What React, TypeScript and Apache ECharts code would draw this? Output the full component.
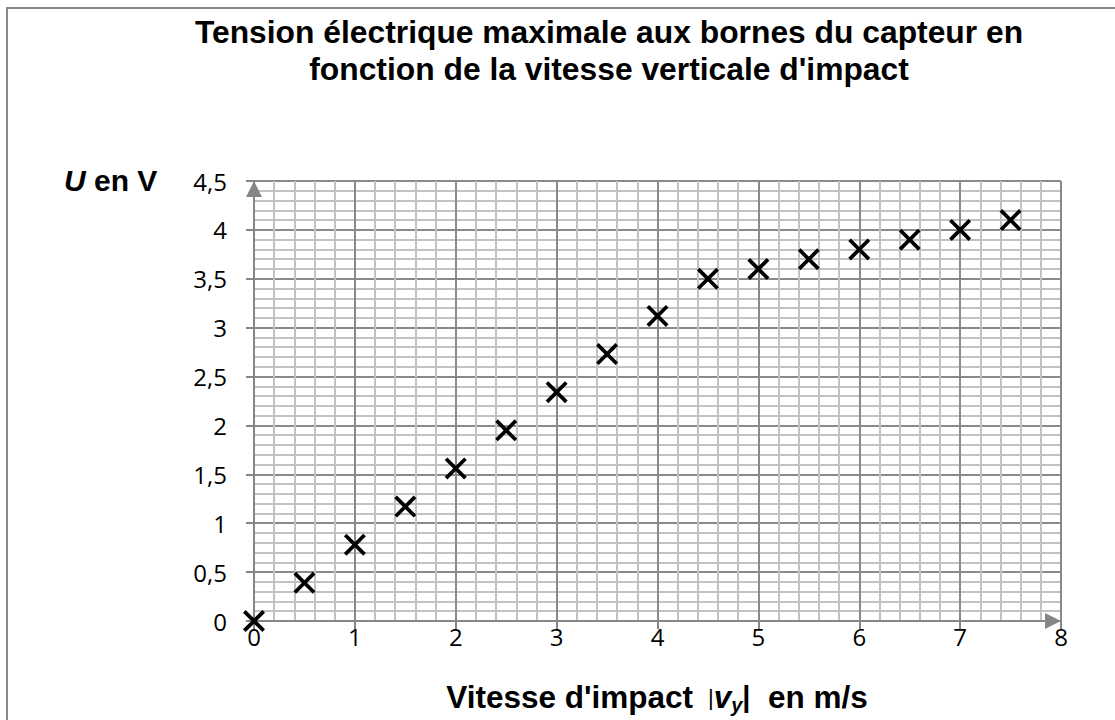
import { useEffect, useRef } from 'react';
import * as echarts from 'echarts';

// Data
const speeds = [0, 0.5, 1, 1.5, 2, 2.5, 3, 3.5, 4, 4.5, 5, 5.5, 6, 6.5, 7, 7.5];
const voltages = [0, 0.39, 0.78, 1.17, 1.56, 1.95, 2.34, 2.73, 3.12, 3.5, 3.6, 3.7, 3.8, 3.9, 4.0, 4.1];

const X_MIN = 0;
const X_MAX = 8;
const X_INTERVAL = 1;
const Y_MIN = 0;
const Y_MAX = 4.5;
const Y_INTERVAL = 0.5;

const TITLE_LINES = [
  'Tension électrique maximale aux bornes du capteur en',
  "fonction de la vitesse verticale d'impact",
];

const AXIS_GRAY = '#868686';
const MAJOR_GRID = '#8a8a8a';
const MINOR_GRID = '#c2c2c2';
const ARIAL = 'Liberation Sans';
const LABEL_FONT = 'Open Sans';
// filled "X" cross marker
const CROSS = 'path://M12,0L100,88L88,100L0,12ZM88,0L100,12L12,100L0,88Z';

export default function App() {
  const ref = useRef<HTMLDivElement>(null);

  useEffect(() => {
    if (!ref.current) return;
    const chart = echarts.init(ref.current, undefined, { renderer: 'svg' });
    const fmt = (v: number) => String(v).replace('.', ',');

    const option: any = {
      animation: false,
      backgroundColor: '#ffffff',
      title: {
        text: TITLE_LINES.join('\n'),
        left: 604,
        top: 8,
        textAlign: 'center',
        textStyle: {
          fontFamily: ARIAL,
          fontWeight: 'bold',
          fontSize: 31.8,
          lineHeight: 37,
          color: '#000',
        },
      },
      grid: { left: 254, right: 54, top: 181, bottom: 99 },
      xAxis: {
        type: 'value',
        min: X_MIN,
        max: X_MAX,
        interval: X_INTERVAL,
        axisLine: {
          show: true,
          onZero: false,
          symbol: ['none', 'triangle'],
          symbolSize: [16, 16],
          symbolOffset: [0, -8],
          lineStyle: { color: AXIS_GRAY, width: 2 },
        },
        axisTick: { show: true, length: 8, lineStyle: { color: AXIS_GRAY, width: 2 } },
        axisLabel: {
          color: '#000',
          fontSize: 24,
          fontFamily: LABEL_FONT,
          margin: 3,
          formatter: fmt,
        },
        splitLine: { show: true, lineStyle: { color: MAJOR_GRID, width: 2 } },
        minorTick: { show: false, splitNumber: 5 },
        minorSplitLine: { show: true, lineStyle: { color: MINOR_GRID, width: 2 } },
      },
      yAxis: {
        type: 'value',
        min: Y_MIN,
        max: Y_MAX,
        interval: Y_INTERVAL,
        axisLine: {
          show: true,
          onZero: false,
          symbol: ['none', 'triangle'],
          symbolSize: [16, 16],
          symbolOffset: [0, -8],
          lineStyle: { color: AXIS_GRAY, width: 2 },
        },
        axisTick: { show: true, length: 8, lineStyle: { color: AXIS_GRAY, width: 2 } },
        axisLabel: {
          color: '#000',
          fontSize: 24,
          fontFamily: LABEL_FONT,
          margin: 27,
          formatter: fmt,
        },
        splitLine: { show: true, lineStyle: { color: MAJOR_GRID, width: 2 } },
        minorTick: { show: false, splitNumber: 5 },
        minorSplitLine: { show: true, lineStyle: { color: MINOR_GRID, width: 2 } },
      },
      graphic: [
        {
          type: 'rect',
          z: -10,
          silent: true,
          shape: { x: 7, y: 8, width: 1200, height: 800 },
          style: { fill: 'none', stroke: '#8a8a8a', lineWidth: 2 },
        },
        {
          type: 'text',
          x: 64,
          y: 180,
          style: {
            text: '{u|U}{t| en V}',
            verticalAlign: 'middle',
            align: 'left',
            rich: {
              u: { fontFamily: ARIAL, fontWeight: 'bold', fontStyle: 'italic', fontSize: 30, fill: '#000' },
              t: { fontFamily: ARIAL, fontWeight: 'bold', fontSize: 30, fill: '#000' },
            },
          },
        },
        {
          type: 'text',
          x: 657,
          y: 697,
          style: {
            text: "{a|Vitesse d'impact }{p| |}{v|v}{s|y}{q||}{a|  en m/s}",
            align: 'center',
            verticalAlign: 'middle',
            rich: {
              a: { fontFamily: ARIAL, fontWeight: 'bold', fontSize: 31.5, lineHeight: 36, fill: '#000' },
              p: { fontFamily: ARIAL, fontWeight: 'normal', fontSize: 22, lineHeight: 36, fill: '#000' },
              v: { fontFamily: ARIAL, fontWeight: 'bold', fontStyle: 'italic', fontSize: 31.5, lineHeight: 36, fill: '#000' },
              s: { fontFamily: ARIAL, fontWeight: 'bold', fontStyle: 'italic', fontSize: 20, lineHeight: 20, verticalAlign: 'bottom', fill: '#000' },
              q: { fontFamily: ARIAL, fontWeight: 'bold', fontSize: 29, lineHeight: 36, fill: '#000' },
            },
          },
        },
      ],
      series: [
        {
          type: 'scatter',
          data: speeds.map((s, i) => [s, voltages[i]]),
          symbol: CROSS,
          symbolSize: 22,
          itemStyle: { color: '#000', borderWidth: 0, opacity: 1 },
          clip: false,
          z: 10,
        },
      ],
    };

    chart.setOption(option);
    return () => chart.dispose();
  }, []);

  return (
    <div
      ref={ref}
      style={{ position: 'absolute', left: 0, top: 0, width: 1115, height: 720, background: '#fff' }}
    />
  );
}
